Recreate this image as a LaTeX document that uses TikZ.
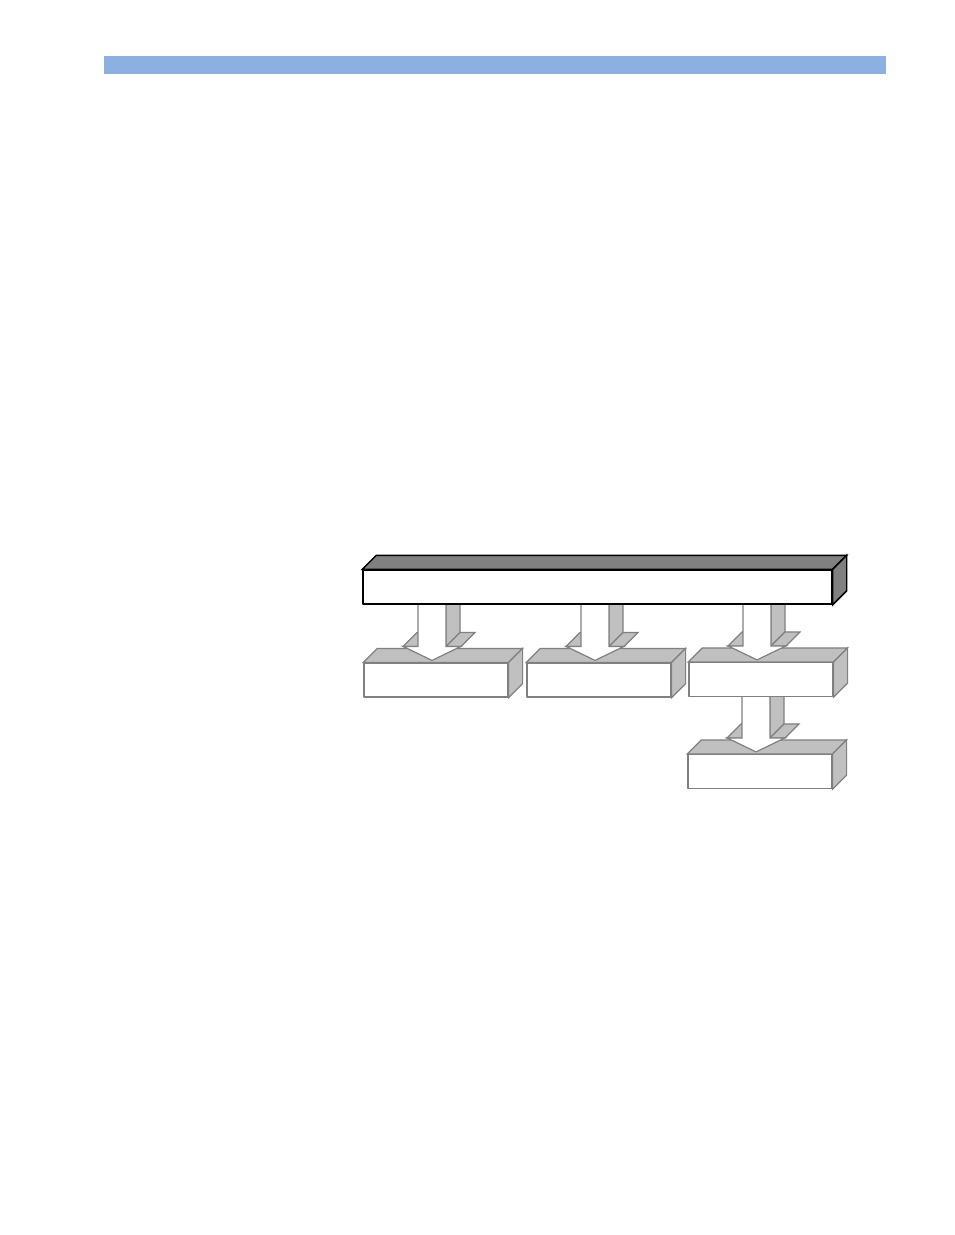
\documentclass[tikz,border=0pt]{standalone}
\usetikzlibrary{backgrounds}
\definecolor{headblue}{RGB}{141,176,226}
\definecolor{busgrey}{RGB}{128,128,128}
\definecolor{boxgrey}{RGB}{192,192,192}
\definecolor{edgegrey}{RGB}{128,128,128}
\tikzset{
  front/.style={draw=edgegrey,fill=white,line width=0.9pt,inner sep=0pt,
    minimum width=108pt,minimum height=25.5pt},
  busfront/.style={front,draw=black,line width=1.1pt,minimum width=351.75pt},
  face/.style={draw=edgegrey,fill=boxgrey,line width=0.9pt},
  busface/.style={draw=black,fill=busgrey,line width=1.1pt}
}
% top and right faces of a box node
\newcommand\boxfaces[2]{%
  \draw[#2] (#1.north west) -- ++(14,-14) -- ([shift={(14,-14)}]#1.north east) -- (#1.north east) -- cycle;
  \draw[#2] (#1.north east) -- ++(14,-14) -- ([shift={(14,-14)}]#1.south east) -- (#1.south east) -- cycle;}
% block arrow from node #1 down to node #2
\newcommand\fatarrow[2]{%
  \coordinate (tip) at ([shift={(-4,-2)}]#2.north);
  \coordinate (bl) at ([shift={(-14,-14)}]tip);
  \coordinate (br) at ([shift={(14,-14)}]tip);
  \coordinate (hl) at ([shift={(-29,-14)}]tip);
  \coordinate (hr) at ([shift={(29,-14)}]tip);
  \coordinate (tl) at (bl |- #1.center);
  \coordinate (tr) at (br |- #1.center);
  \draw[face] (tr) -- (br) -- ++(14,-14) -- ([shift={(14,-14)}]tr) -- cycle;
  \draw[face] (br) -- (hr) -- ++(14,-14) -- ([shift={(14,-14)}]br) -- cycle;
  \draw[face] (hl) -- ++(14,-14) -- ([shift={(14,-14)}]bl) -- (bl) -- cycle;
  \draw[face,fill=white] (tl) -- (bl) -- (hl) -- (tip) -- (hr) -- (br) -- (tr) -- cycle;}
\begin{document}
\begin{tikzpicture}[x=0.75pt,y=-0.75pt,line join=round]
  \useasboundingbox (0,0) rectangle (954,1235);
  \fill[headblue] (104,56) rectangle (886,74);
  \node[busfront] (bus) at (597.5,587) {};
  \node[front] (b1) at (436,680) {};
  \node[front] (b2) at (599,680) {};
  \node[front] (b3) at (761,679.5) {};
  \node[front] (b4) at (760,771.5) {};
  \begin{scope}[on background layer]
    \boxfaces{bus}{busface}
    \foreach \b in {b1,b2,b3,b4}{\boxfaces{\b}{face}}
    \foreach \s/\t in {bus/b1,bus/b2,bus/b3,b3/b4}{\fatarrow{\s}{\t}}
  \end{scope}
\end{tikzpicture}
\end{document}
